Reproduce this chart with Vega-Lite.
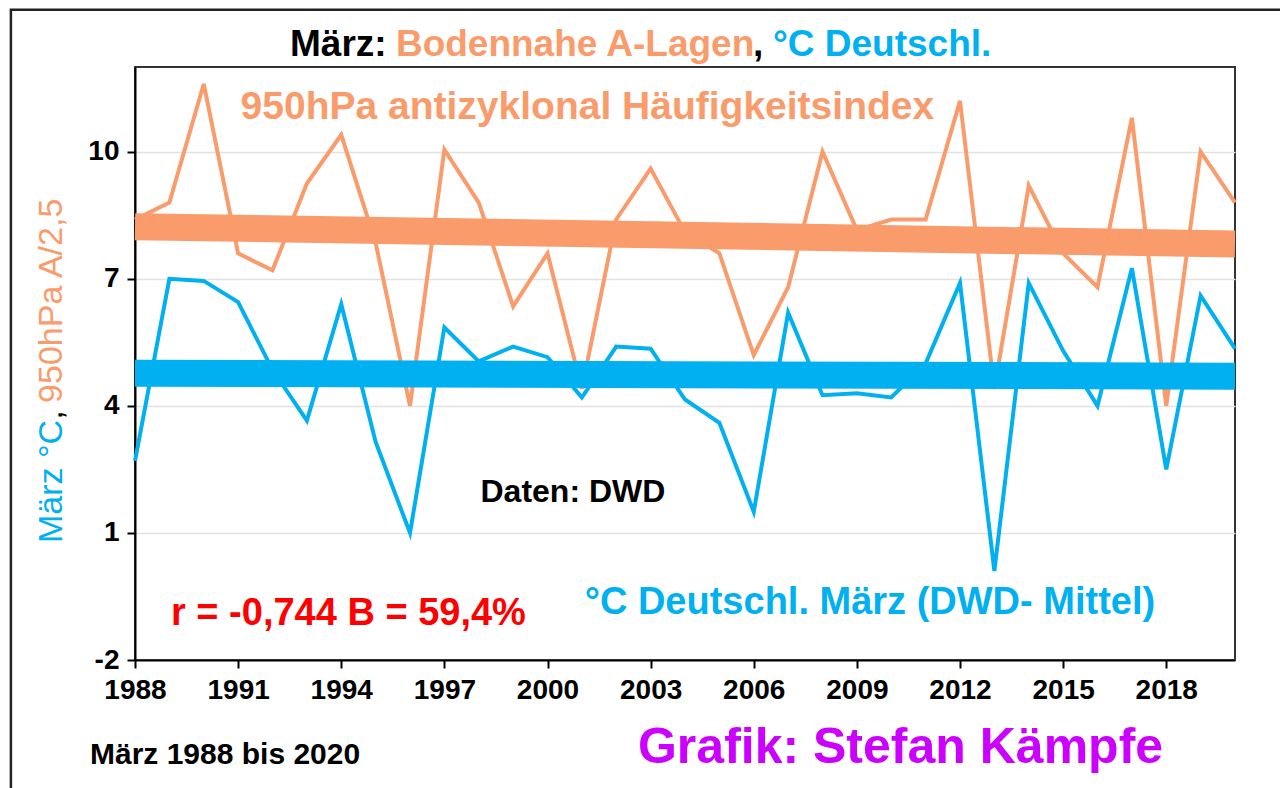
{
  "$schema": "https://vega.github.io/schema/vega-lite/v6.json",
  "width": 1100,
  "height": 593,
  "autosize": {"type": "none"},
  "padding": {"left": 135, "top": 67, "right": 45, "bottom": 128},
  "background": "white",
  "config": {
    "font": "Liberation Sans",
    "view": {"stroke": "#333333", "strokeWidth": 2}
  },
  "datasets": {
    "series": [
      {"year": 1988, "series": "°C Deutschl.", "value": 2.7},
      {"year": 1989, "series": "°C Deutschl.", "value": 7.0},
      {"year": 1990, "series": "°C Deutschl.", "value": 6.95},
      {"year": 1991, "series": "°C Deutschl.", "value": 6.45},
      {"year": 1992, "series": "°C Deutschl.", "value": 4.85},
      {"year": 1993, "series": "°C Deutschl.", "value": 3.65},
      {"year": 1994, "series": "°C Deutschl.", "value": 6.4},
      {"year": 1995, "series": "°C Deutschl.", "value": 3.15},
      {"year": 1996, "series": "°C Deutschl.", "value": 1.0},
      {"year": 1997, "series": "°C Deutschl.", "value": 5.85},
      {"year": 1998, "series": "°C Deutschl.", "value": 5.05},
      {"year": 1999, "series": "°C Deutschl.", "value": 5.4},
      {"year": 2000, "series": "°C Deutschl.", "value": 5.15},
      {"year": 2001, "series": "°C Deutschl.", "value": 4.2},
      {"year": 2002, "series": "°C Deutschl.", "value": 5.4},
      {"year": 2003, "series": "°C Deutschl.", "value": 5.35},
      {"year": 2004, "series": "°C Deutschl.", "value": 4.15},
      {"year": 2005, "series": "°C Deutschl.", "value": 3.6},
      {"year": 2006, "series": "°C Deutschl.", "value": 1.5},
      {"year": 2007, "series": "°C Deutschl.", "value": 6.2},
      {"year": 2008, "series": "°C Deutschl.", "value": 4.25},
      {"year": 2009, "series": "°C Deutschl.", "value": 4.3},
      {"year": 2010, "series": "°C Deutschl.", "value": 4.2},
      {"year": 2011, "series": "°C Deutschl.", "value": 5.0},
      {"year": 2012, "series": "°C Deutschl.", "value": 6.9},
      {"year": 2013, "series": "°C Deutschl.", "value": 0.1},
      {"year": 2014, "series": "°C Deutschl.", "value": 6.9},
      {"year": 2015, "series": "°C Deutschl.", "value": 5.3},
      {"year": 2016, "series": "°C Deutschl.", "value": 4.0},
      {"year": 2017, "series": "°C Deutschl.", "value": 7.25},
      {"year": 2018, "series": "°C Deutschl.", "value": 2.5},
      {"year": 2019, "series": "°C Deutschl.", "value": 6.6},
      {"year": 2020, "series": "°C Deutschl.", "value": 5.35},
      {"year": 1988, "series": "A-Lagen/2,5", "value": 8.4},
      {"year": 1989, "series": "A-Lagen/2,5", "value": 8.8},
      {"year": 1990, "series": "A-Lagen/2,5", "value": 11.6},
      {"year": 1991, "series": "A-Lagen/2,5", "value": 7.6},
      {"year": 1992, "series": "A-Lagen/2,5", "value": 7.2},
      {"year": 1993, "series": "A-Lagen/2,5", "value": 9.25},
      {"year": 1994, "series": "A-Lagen/2,5", "value": 10.4},
      {"year": 1995, "series": "A-Lagen/2,5", "value": 7.85},
      {"year": 1996, "series": "A-Lagen/2,5", "value": 4.0},
      {"year": 1997, "series": "A-Lagen/2,5", "value": 10.05},
      {"year": 1998, "series": "A-Lagen/2,5", "value": 8.8},
      {"year": 1999, "series": "A-Lagen/2,5", "value": 6.35},
      {"year": 2000, "series": "A-Lagen/2,5", "value": 7.6},
      {"year": 2001, "series": "A-Lagen/2,5", "value": 4.4},
      {"year": 2002, "series": "A-Lagen/2,5", "value": 8.4},
      {"year": 2003, "series": "A-Lagen/2,5", "value": 9.6},
      {"year": 2004, "series": "A-Lagen/2,5", "value": 8.1},
      {"year": 2005, "series": "A-Lagen/2,5", "value": 7.6},
      {"year": 2006, "series": "A-Lagen/2,5", "value": 5.2},
      {"year": 2007, "series": "A-Lagen/2,5", "value": 6.8},
      {"year": 2008, "series": "A-Lagen/2,5", "value": 10.0},
      {"year": 2009, "series": "A-Lagen/2,5", "value": 8.15},
      {"year": 2010, "series": "A-Lagen/2,5", "value": 8.4},
      {"year": 2011, "series": "A-Lagen/2,5", "value": 8.4},
      {"year": 2012, "series": "A-Lagen/2,5", "value": 11.2},
      {"year": 2013, "series": "A-Lagen/2,5", "value": 4.4},
      {"year": 2014, "series": "A-Lagen/2,5", "value": 9.2},
      {"year": 2015, "series": "A-Lagen/2,5", "value": 7.6},
      {"year": 2016, "series": "A-Lagen/2,5", "value": 6.8},
      {"year": 2017, "series": "A-Lagen/2,5", "value": 10.8},
      {"year": 2018, "series": "A-Lagen/2,5", "value": 4.0},
      {"year": 2019, "series": "A-Lagen/2,5", "value": 10.0},
      {"year": 2020, "series": "A-Lagen/2,5", "value": 8.8}
    ],
    "trend": [
      {"year": 1988, "series": "A-Lagen/2,5", "value": 8.23},
      {"year": 2020, "series": "A-Lagen/2,5", "value": 7.82},
      {"year": 1988, "series": "°C Deutschl.", "value": 4.77},
      {"year": 2020, "series": "°C Deutschl.", "value": 4.70}
    ]
  },
  "layer": [
    {
      "data": {"name": "series"},
      "mark": {"type": "line", "strokeWidth": 4, "strokeJoin": "miter"},
      "encoding": {
        "x": {
          "field": "year", "type": "quantitative",
          "scale": {"domain": [1988, 2020], "nice": false, "zero": false},
          "axis": {
            "values": [1988, 1991, 1994, 1997, 2000, 2003, 2006, 2009, 2012, 2015, 2018],
            "labelExpr": "'' + datum.value", "title": null, "grid": false,
            "domainColor": "black", "domainWidth": 2,
            "tickColor": "black", "tickWidth": 2, "tickSize": 8,
            "labelFont": "Liberation Sans", "labelFontSize": 28, "labelFontWeight": "bold", "labelColor": "black",
            "labelPadding": 8, "labelFlush": false
          }
        },
        "y": {
          "field": "value", "type": "quantitative",
          "scale": {"domain": [-2, 12], "nice": false, "zero": false},
          "axis": {
            "values": [-2, 1, 4, 7, 10], "labelExpr": "'' + datum.value", "title": null,
            "grid": true, "gridColor": "#e2e2e2", "gridWidth": 1.5,
            "domainColor": "black", "domainWidth": 2,
            "tickColor": "black", "tickWidth": 2, "tickSize": 8,
            "labelFont": "Liberation Sans", "labelFontSize": 28, "labelFontWeight": "bold", "labelColor": "black",
            "labelPadding": 8
          }
        },
        "color": {
          "field": "series", "type": "nominal",
          "scale": {"domain": ["A-Lagen/2,5", "°C Deutschl."], "range": ["#FA9B6B", "#00B0F0"]},
          "legend": null
        }
      }
    },
    {
      "data": {"name": "trend"},
      "mark": {"type": "line", "strokeWidth": 27, "strokeCap": "butt"},
      "encoding": {
        "x": {"field": "year", "type": "quantitative"},
        "y": {"field": "value", "type": "quantitative"},
        "color": {"field": "series", "type": "nominal", "legend": null}
      }
    },
    {
      "data": {"values": [{}]},
      "mark": {"type": "rect", "fill": null, "filled": false, "stroke": "#222222", "strokeWidth": 2.5, "clip": false},
      "encoding": {
        "x": {"datum": 1984.39, "type": "quantitative"},
        "x2": {"datum": 2021.45},
        "y": {"datum": 13.35, "type": "quantitative"},
        "y2": {"datum": -5.2}
      }
    },
    {
      "data": {"values": [{}]},
      "mark": {"type": "text", "text": "März:", "align": "left", "baseline": "middle", "fontSize": 37, "fontWeight": "bold", "color": "black"},
      "encoding": {"x": {"datum": 1992.51, "type": "quantitative"}, "y": {"datum": 12.52, "type": "quantitative"}}
    },
    {
      "data": {"values": [{}]},
      "mark": {"type": "text", "text": "Bodennahe A-Lagen", "align": "left", "baseline": "middle", "fontSize": 37, "fontWeight": "bold", "color": "#FA9B6B"},
      "encoding": {"x": {"datum": 1995.59, "type": "quantitative"}, "y": {"datum": 12.52, "type": "quantitative"}}
    },
    {
      "data": {"values": [{}]},
      "mark": {"type": "text", "text": ",", "align": "left", "baseline": "middle", "fontSize": 37, "fontWeight": "bold", "color": "black"},
      "encoding": {"x": {"datum": 2005.98, "type": "quantitative"}, "y": {"datum": 12.52, "type": "quantitative"}}
    },
    {
      "data": {"values": [{}]},
      "mark": {"type": "text", "text": "°C Deutschl.", "align": "left", "baseline": "middle", "fontSize": 37, "fontWeight": "bold", "color": "#00B0F0"},
      "encoding": {"x": {"datum": 2006.56, "type": "quantitative"}, "y": {"datum": 12.52, "type": "quantitative"}}
    },
    {
      "data": {"values": [{}]},
      "mark": {"type": "text", "text": "950hPa antizyklonal Häufigkeitsindex", "align": "center", "baseline": "middle", "fontSize": 39, "fontWeight": "bold", "color": "#FA9B6B"},
      "encoding": {"x": {"datum": 2001.16, "type": "quantitative"}, "y": {"datum": 11.06, "type": "quantitative"}}
    },
    {
      "data": {"values": [{}]},
      "mark": {"type": "text", "text": "Daten: DWD", "align": "center", "baseline": "middle", "fontSize": 32, "fontWeight": "bold", "color": "black"},
      "encoding": {"x": {"datum": 2000.74, "type": "quantitative"}, "y": {"datum": 1.97, "type": "quantitative"}}
    },
    {
      "data": {"values": [{}]},
      "mark": {"type": "text", "text": "r = -0,744 B = 59,4%", "align": "center", "baseline": "middle", "fontSize": 38, "fontWeight": "bold", "color": "#FF0000"},
      "encoding": {"x": {"datum": 1994.21, "type": "quantitative"}, "y": {"datum": -0.91, "type": "quantitative"}}
    },
    {
      "data": {"values": [{}]},
      "mark": {"type": "text", "text": "°C Deutschl. März (DWD- Mittel)", "align": "center", "baseline": "middle", "fontSize": 38, "fontWeight": "bold", "color": "#00B0F0"},
      "encoding": {"x": {"datum": 2009.38, "type": "quantitative"}, "y": {"datum": -0.65, "type": "quantitative"}}
    },
    {
      "data": {"values": [{}]},
      "mark": {"type": "text", "text": "Grafik: Stefan Kämpfe", "align": "center", "baseline": "middle", "fontSize": 50, "fontWeight": "bold", "color": "#CC00FF"},
      "encoding": {"x": {"datum": 2010.27, "type": "quantitative"}, "y": {"datum": -4.08, "type": "quantitative"}}
    },
    {
      "data": {"values": [{}]},
      "mark": {"type": "text", "text": "März 1988 bis 2020", "align": "center", "baseline": "middle", "fontSize": 30, "fontWeight": "bold", "color": "black"},
      "encoding": {"x": {"datum": 1990.62, "type": "quantitative"}, "y": {"datum": -4.24, "type": "quantitative"}}
    },
    {
      "data": {"values": [{}]},
      "mark": {"type": "text", "text": "März °C", "align": "left", "baseline": "middle", "angle": 270, "fontSize": 34, "color": "#00B0F0"},
      "encoding": {"x": {"datum": 1985.59, "type": "quantitative"}, "y": {"datum": 0.76, "type": "quantitative"}}
    },
    {
      "data": {"values": [{}]},
      "mark": {"type": "text", "text": ",", "align": "left", "baseline": "middle", "angle": 270, "fontSize": 34, "color": "black"},
      "encoding": {"x": {"datum": 1985.59, "type": "quantitative"}, "y": {"datum": 3.67, "type": "quantitative"}}
    },
    {
      "data": {"values": [{}]},
      "mark": {"type": "text", "text": "950hPa A/2,5", "align": "left", "baseline": "middle", "angle": 270, "fontSize": 34, "color": "#FA9B6B"},
      "encoding": {"x": {"datum": 1985.59, "type": "quantitative"}, "y": {"datum": 4.07, "type": "quantitative"}}
    }
  ]
}
